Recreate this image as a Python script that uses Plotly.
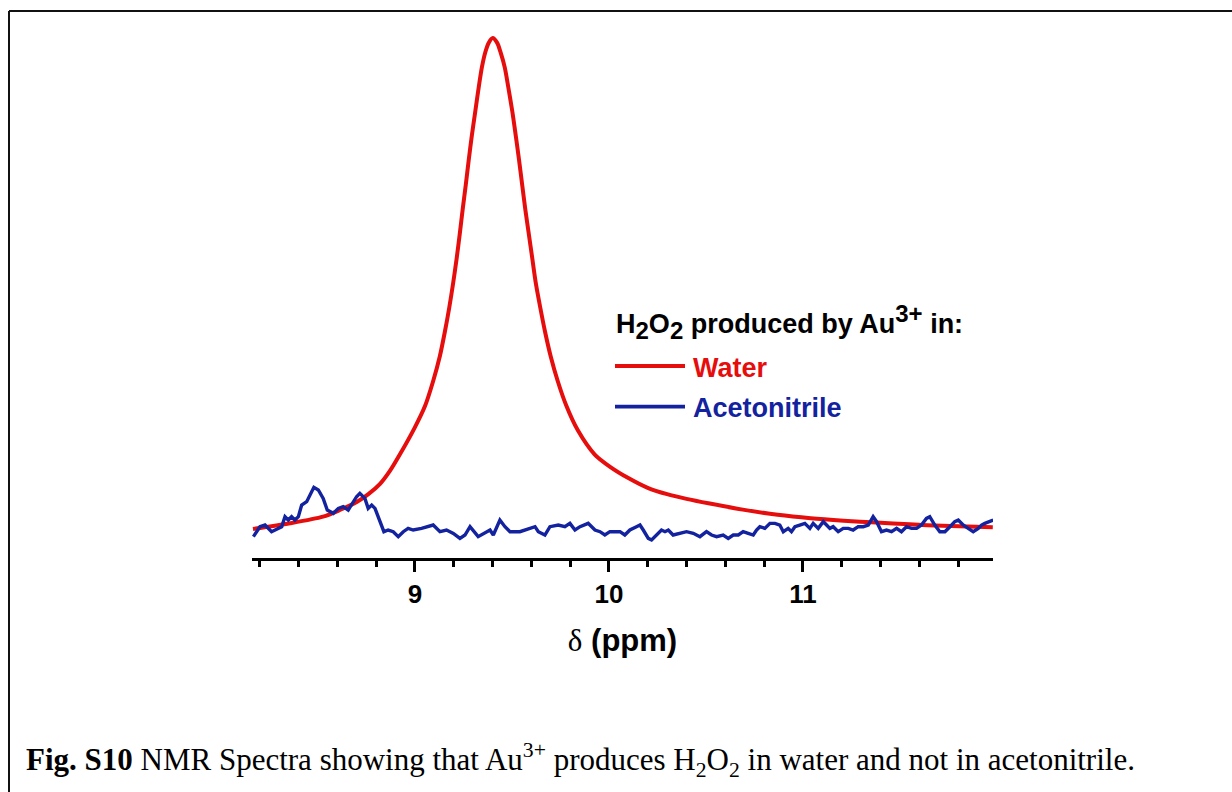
import plotly.graph_objects as go

# ---- data (chemical shift in ppm, intensity in arbitrary units, peak = 100) ----
water_ppm = [8.165, 8.356, 8.526, 8.613, 8.700, 8.760, 8.820, 8.870, 8.922, 8.999,
             9.053, 9.094, 9.128, 9.154, 9.177, 9.197, 9.215, 9.231, 9.246, 9.262,
             9.277, 9.293, 9.311, 9.329, 9.345, 9.362, 9.380, 9.401, 9.424, 9.442,
             9.463, 9.481, 9.502, 9.520, 9.537, 9.553, 9.569, 9.587, 9.605, 9.623,
             9.646, 9.671, 9.700, 9.736, 9.780, 9.839, 9.927, 10.006, 10.100, 10.200,
             10.300, 10.400, 10.520, 10.690, 10.870, 11.040, 11.210, 11.380, 11.550,
             11.720, 11.979]
water_int = [-0.2, 0.96, 2.31, 3.67, 5.3, 6.9, 9.0, 11.6, 15.0, 20.5,
             25.0, 30.0, 35.0, 40.0, 45.0, 50.0, 55.0, 60.0, 65.0, 70.0,
             75.0, 80.0, 85.0, 90.0, 94.0, 97.0, 99.0, 100.0, 99.0, 97.0,
             94.0, 90.0, 85.0, 80.0, 75.0, 70.0, 65.0, 60.0, 55.0, 50.0,
             45.0, 40.0, 35.0, 30.0, 25.0, 20.0, 15.0, 12.5, 10.2, 8.2,
             6.9, 5.95, 5.0, 3.75, 2.7, 2.0, 1.5, 1.1, 0.76,
             0.45, 0.14]

acn_ppm = [8.167, 8.201, 8.227, 8.261, 8.287, 8.313, 8.330, 8.347, 8.364, 8.381,
           8.399, 8.416, 8.442, 8.459, 8.479, 8.502, 8.527, 8.548, 8.579, 8.605,
           8.630, 8.656, 8.682, 8.699, 8.716, 8.742, 8.759, 8.777, 8.794, 8.811,
           8.828, 8.840, 8.862, 8.888, 8.914, 8.940, 8.965, 8.991, 9.034, 9.094,
           9.129, 9.163, 9.198, 9.232, 9.258, 9.284, 9.326, 9.361, 9.387, 9.404,
           9.438, 9.464, 9.490, 9.541, 9.593, 9.619, 9.636, 9.670, 9.696, 9.739,
           9.773, 9.799, 9.825, 9.851, 9.893, 9.928, 9.954, 9.979, 10.005, 10.057,
           10.082, 10.108, 10.142, 10.160, 10.177, 10.203, 10.220, 10.246, 10.271, 10.289,
           10.306, 10.331, 10.366, 10.400, 10.435, 10.469, 10.503, 10.529, 10.555, 10.589,
           10.615, 10.641, 10.667, 10.692, 10.718, 10.744, 10.761, 10.778, 10.804, 10.830,
           10.856, 10.881, 10.899, 10.924, 10.941, 10.959, 10.984, 11.010, 11.036, 11.053,
           11.079, 11.105, 11.122, 11.139, 11.156, 11.182, 11.208, 11.234, 11.259, 11.285,
           11.311, 11.337, 11.362, 11.380, 11.405, 11.431, 11.457, 11.483, 11.508, 11.534,
           11.560, 11.586, 11.611, 11.637, 11.654, 11.680, 11.706, 11.732, 11.758, 11.783,
           11.801, 11.826, 11.852, 11.878, 11.904, 11.921, 11.938, 11.964, 11.981]
acn_int = [-1.77, 0.27, 0.61, -0.75, -0.27, 0.27, 2.31, 1.63, 2.31, 1.63,
           2.31, 4.69, 5.37, 6.73, 8.30, 7.76, 6.05, 3.67, 2.99, 4.01,
           4.35, 3.67, 5.37, 6.39, 7.07, 6.05, 4.01, 4.69, 4.01, 2.31,
           0.27, -0.75, -0.41, -0.75, -1.77, -0.75, -0.07, -0.41, -0.07, 0.61,
           -0.75, -0.41, -1.09, -2.11, -1.43, 0.27, -1.77, -1.09, -0.41, -1.43,
           1.63, 0.27, -0.75, -0.75, -0.07, 0.27, -0.75, -1.43, 0.27, 0.61,
           0.27, 0.95, -0.41, 0.27, 0.95, -0.41, -0.75, -1.43, -0.75, -0.75,
           -1.43, -0.41, 0.27, 0.61, -0.41, -2.11, -2.45, -1.43, -0.41, -0.75,
           -0.41, -1.43, -1.09, -0.75, -1.09, -1.77, -0.75, -1.43, -1.77, -1.43,
           -2.11, -1.43, -1.43, -0.75, -1.09, -1.43, -0.41, 0.27, -0.07, 0.95,
           0.95, 0.61, -0.75, -0.07, -0.75, 0.27, 0.61, 0.95, -0.07, 0.95,
           -0.07, 1.29, 0.61, -0.07, 0.27, -0.75, -0.07, -0.07, -0.41, 0.27,
           0.27, 0.61, 2.31, 1.29, -0.75, -0.41, -0.75, -0.07, -0.75, 0.27,
           -0.07, -0.07, 0.61, 1.97, 2.31, 0.61, -0.75, -0.75, 0.27, 1.29,
           1.63, 0.61, -0.07, -0.75, -0.07, 0.61, 0.95, 1.29, 1.63]

tick_vals = [9, 10, 11]
tick_text = ["9", "10", "11"]
x_range = [8.16, 11.98]
y_range = [-6.12, 101.63]

RED = "#e60d0d"
NAVY = "#13229e"
SANS = "Arial, Liberation Sans, sans-serif"
SERIF = "Times New Roman, Liberation Serif, serif"

fig = go.Figure()
fig.add_trace(go.Scatter(x=water_ppm, y=water_int, mode="lines", name="Water",
                         line=dict(color=RED, width=4, shape="spline", smoothing=0.8)))
fig.add_trace(go.Scatter(x=acn_ppm, y=acn_int, mode="lines", name="Acetonitrile",
                         line=dict(color=NAVY, width=3.4)))

# plot area geometry (px)
L, R, T, B = 252, 239, 30, 234
W, H = 1232, 792
pw, ph = W - L - R, H - T - B


def px(xp):
    return (xp - L) / pw


def py(yp):
    return (H - B - yp) / ph


fig.update_layout(
    width=W, height=H,
    margin=dict(l=L, r=R, t=T, b=B),
    paper_bgcolor="white", plot_bgcolor="white",
    showlegend=False,
    xaxis=dict(range=x_range, tickvals=tick_vals, ticktext=tick_text,
               showgrid=False, zeroline=False, showline=True, linecolor="black", linewidth=3,
               ticks="outside", ticklen=11, tickwidth=3, tickcolor="black",
               minor=dict(dtick=0.2, tick0=8.0, ticks="outside", ticklen=6, tickwidth=2.5,
                          tickcolor="black", showgrid=False),
               tickfont=dict(family=SANS, size=26, color="black", weight="bold"),
               title=dict(text='<span style="font-family:Liberation Serif, Times New Roman, serif">δ</span> <b>(ppm)</b>',
                          standoff=22,
                          font=dict(family=SANS, size=31, color="black"))),
    yaxis=dict(range=y_range, visible=False, showgrid=False, zeroline=False),
)

# manual legend
fig.add_annotation(xref="paper", yref="paper", x=px(614), y=py(322), xanchor="left", yanchor="middle",
                   text=('<b>H<sub><span style="font-size:24px">2</span></sub>O<sub><span style="font-size:24px">2</span></sub>'
                         ' produced by Au<sup><span style="font-size:24px">3+</span></sup> in:</b>'),
                   showarrow=False, font=dict(family=SANS, size=27, color="black"))
fig.add_shape(type="line", xref="paper", yref="paper", x0=px(615), x1=px(685), y0=py(366), y1=py(366),
              line=dict(color=RED, width=3.8))
fig.add_shape(type="line", xref="paper", yref="paper", x0=px(615), x1=px(685), y0=py(406.7), y1=py(406.7),
              line=dict(color=NAVY, width=3.8))
fig.add_annotation(xref="paper", yref="paper", x=px(691), y=py(368), xanchor="left", yanchor="middle",
                   text="<b>Water</b>", showarrow=False, font=dict(family=SANS, size=27, color=RED))
fig.add_annotation(xref="paper", yref="paper", x=px(691), y=py(408), xanchor="left", yanchor="middle",
                   text="<b>Acetonitrile</b>", showarrow=False, font=dict(family=SANS, size=27, color=NAVY))

# caption
fig.add_annotation(xref="paper", yref="paper", x=px(24), y=py(760), xanchor="left", yanchor="middle",
                   text="<b>Fig. S10</b> NMR Spectra showing that Au<sup>3+</sup> produces H<sub>2</sub>O<sub>2</sub> in water and not in acetonitrile.",
                   showarrow=False, font=dict(family=SERIF, size=31, color="black"))

# figure frame (top and left edges)
fig.add_shape(type="line", xref="paper", yref="paper", x0=px(9), x1=px(1240), y0=py(11), y1=py(11),
              line=dict(color="#111111", width=2))
fig.add_shape(type="line", xref="paper", yref="paper", x0=px(9), x1=px(9), y0=py(11), y1=py(800),
              line=dict(color="#111111", width=2))

fig.write_html("out.html")
